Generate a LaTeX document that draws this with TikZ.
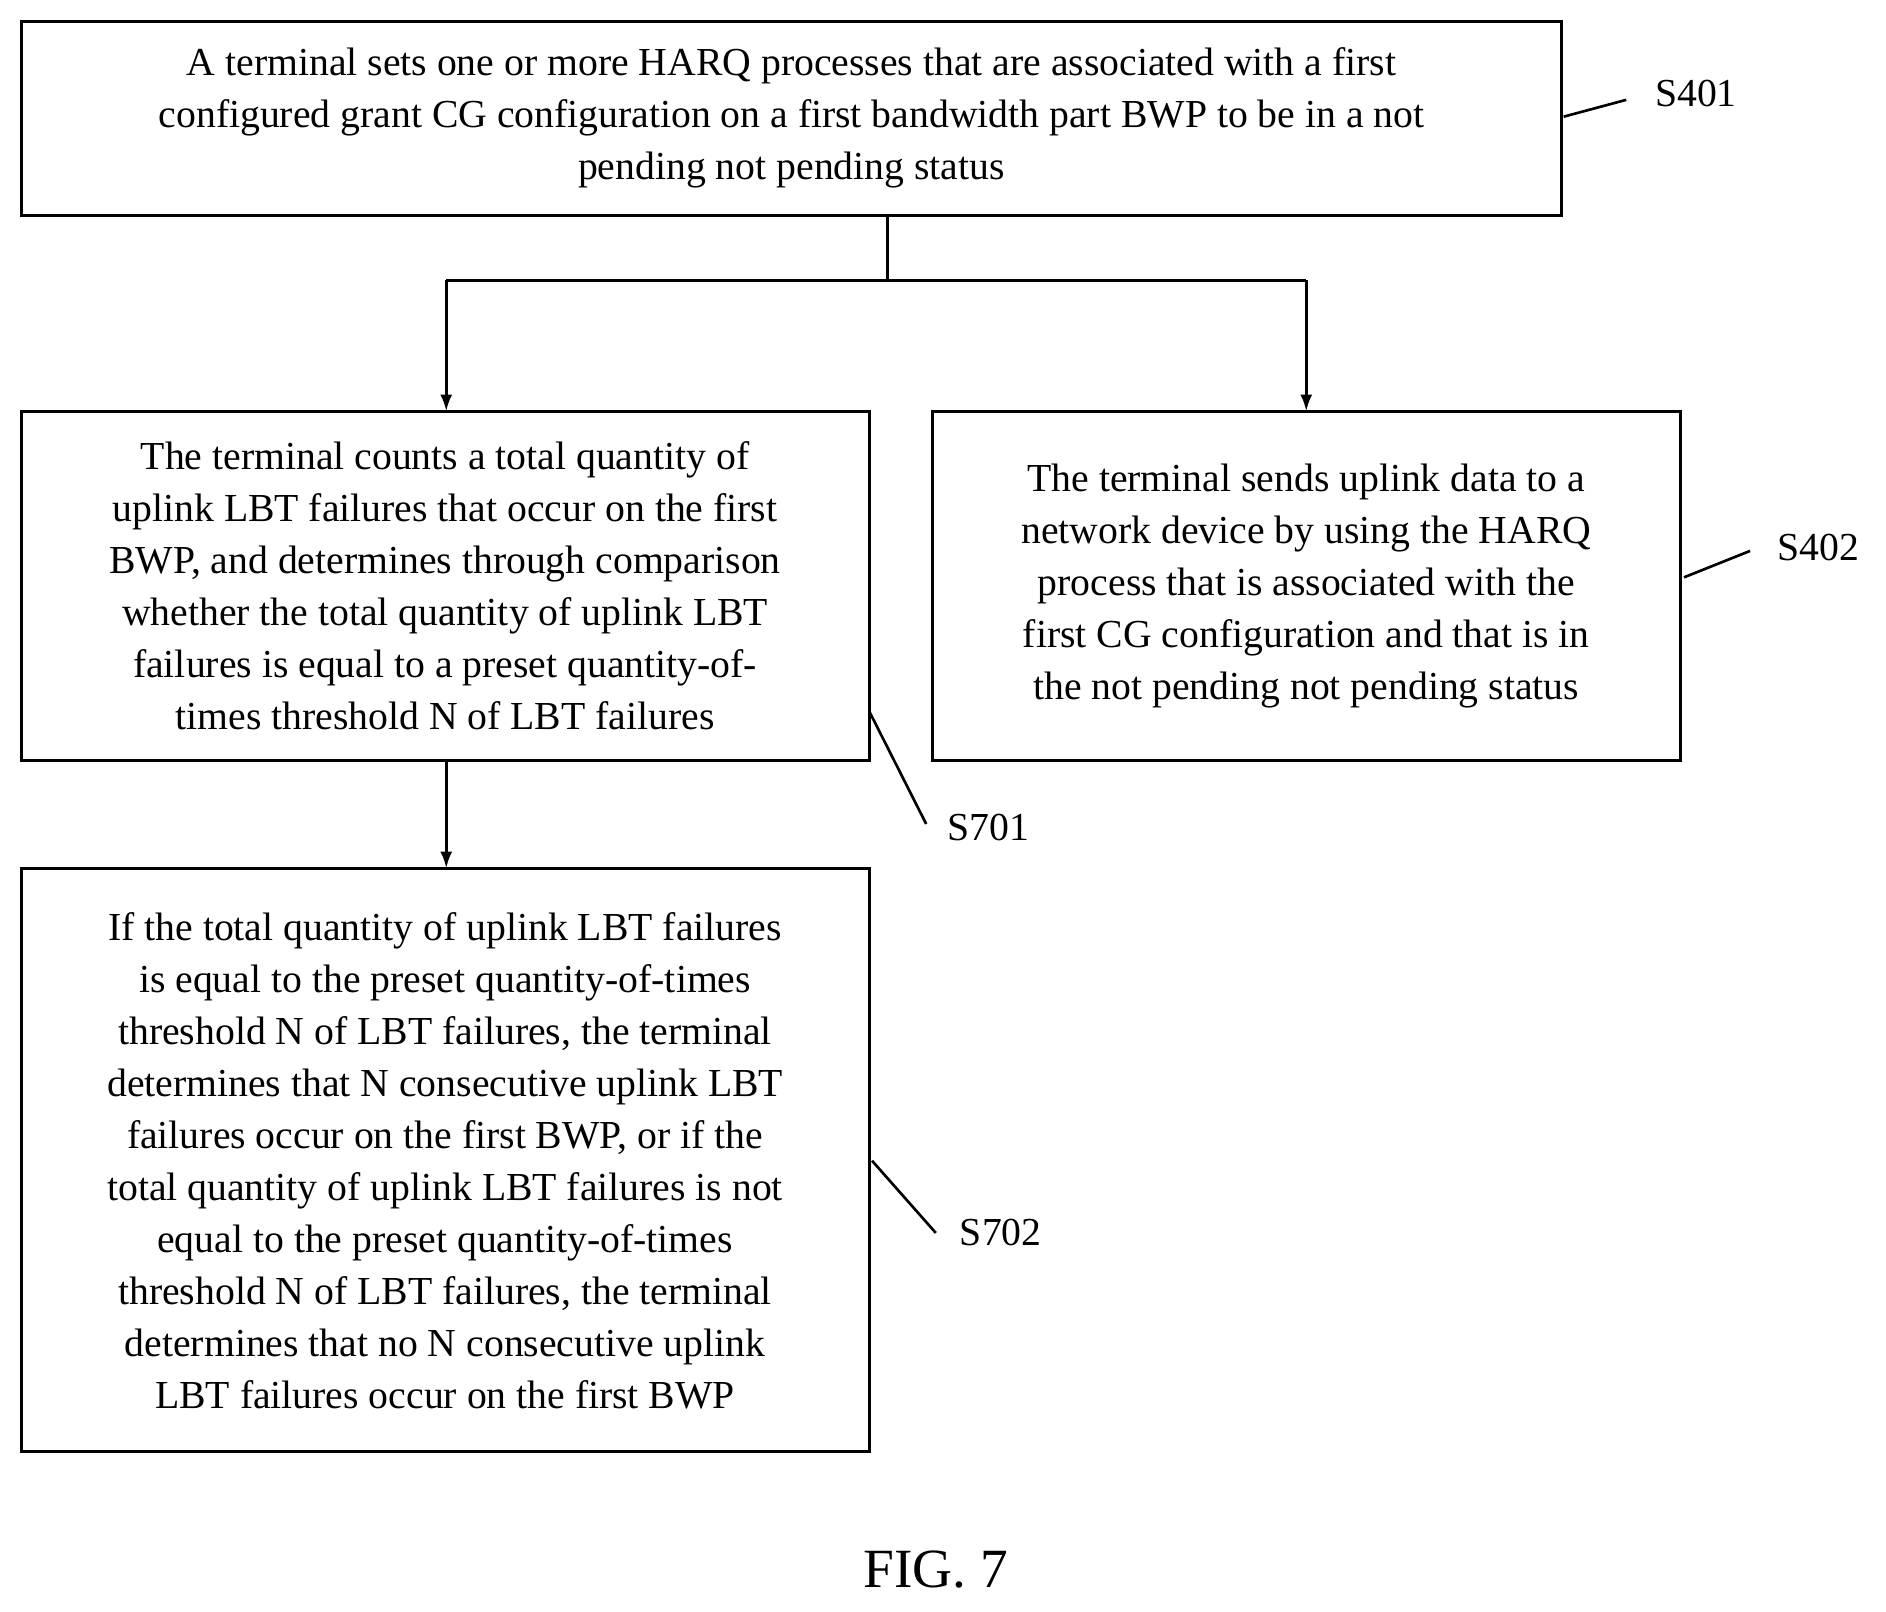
\documentclass[tikz,border=0pt]{standalone}
\usepackage{fontspec}
\usetikzlibrary{arrows.meta}
\setmainfont{Liberation Serif}
\begin{document}
\begin{tikzpicture}[x=0.5pt,y=-0.5pt,
  box/.style={draw,line width=1.2pt},
  txt/.style={align=center,font=\fontsize{16.5}{21.6}\selectfont},
  lab/.style={font=\fontsize{16.5}{20}\selectfont},
  arr/.style={line width=1.2pt,-{Latex[length=7pt,width=5pt]}},
  ln/.style={line width=1.1pt}]
\useasboundingbox (0,0) rectangle (1568,1340);
\draw[box] (18,18) rectangle (1298,179);
\node[txt] (t1) at (658,98) {A terminal sets one or more HARQ processes that are associated with a first\\configured grant CG configuration on a first bandwidth part BWP to be in a not\\pending not pending status};
\draw[box] (18,342) rectangle (723,632);
\node[txt] (t2) at (370,487) {The terminal counts a total quantity of\\uplink LBT failures that occur on the first\\BWP, and determines through comparison\\whether the total quantity of uplink LBT\\failures is equal to a preset quantity-of-\\times threshold N of LBT failures};
\draw[box] (775,342) rectangle (1397,632);
\node[txt] (t3) at (1086,487) {The terminal sends uplink data to a\\network device by using the HARQ\\process that is associated with the\\first CG configuration and that is in\\the not pending not pending status};
\draw[box] (18,722) rectangle (723,1207);
\node[txt] (t4) at (370,965) {If the total quantity of uplink LBT failures\\is equal to the preset quantity-of-times\\threshold N of LBT failures, the terminal\\determines that N consecutive uplink LBT\\failures occur on the first BWP, or if the\\total quantity of uplink LBT failures is not\\equal to the preset quantity-of-times\\threshold N of LBT failures, the terminal\\determines that no N consecutive uplink\\LBT failures occur on the first BWP};
\coordinate (a0) at (738,179);
\coordinate (a1) at (738,233);
\coordinate (aL) at (371,233);
\coordinate (aR) at (1086,233);
\coordinate (bL) at (371,342);
\coordinate (bR) at (1086,342);
\draw[ln] (a0) -- (a1);
\draw[ln] (aL) -- (aR);
\draw[arr] (aL) -- (bL);
\draw[arr] (aR) -- (bR);
\coordinate (c0) at (371,632);
\coordinate (c1) at (371,722);
\draw[arr] (c0) -- (c1);
\node[lab] (s401) at (1410,78) {S401};
\draw[ln] (1300,97) -- (1352,83);
\node[lab] (s402) at (1512,455) {S402};
\draw[ln] (1400,480) -- (1455,458);
\node[lab] (s701) at (822,688) {S701};
\draw[ln] (723,592) -- (770,685);
\node[lab] (s702) at (832,1025) {S702};
\draw[ln] (725,965) -- (778,1025);
\node[font=\fontsize{23}{26}\selectfont] (fig) at (778,1305) {FIG. 7};
\end{tikzpicture}
\end{document}
